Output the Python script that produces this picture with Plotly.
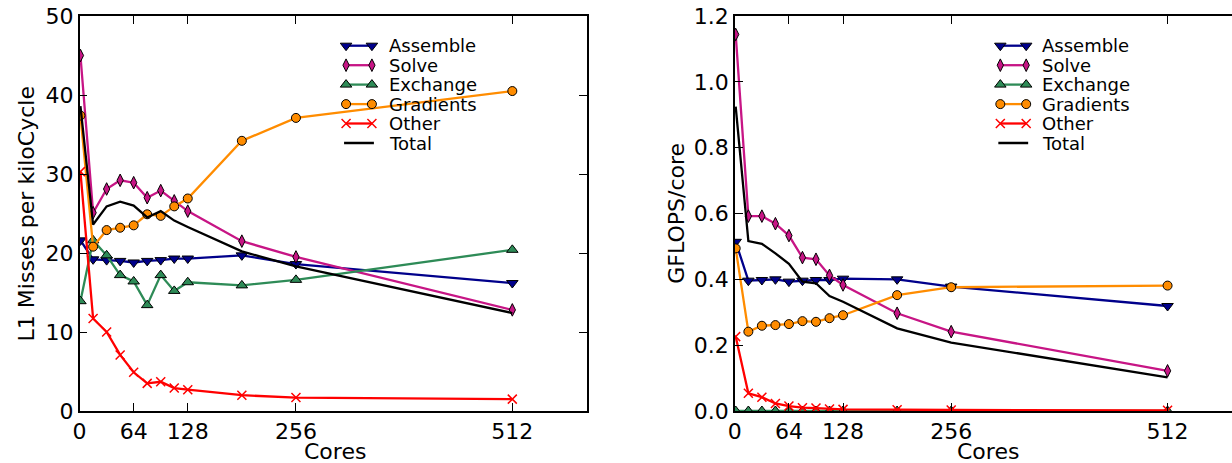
import plotly.graph_objects as go

# ---------------- data ----------------
cores = [1, 16, 32, 48, 64, 80, 96, 112, 128, 192, 256, 512]
x_ticks = [0, 64, 128, 256, 512]
series_names = ["Assemble", "Solve", "Exchange", "Gradients", "Other", "Total"]

l1_assemble = [21.6, 19.2, 19.1, 19.0, 18.8, 19.0, 19.1, 19.3, 19.3, 19.7, 18.6, 16.2]
l1_solve = [45.0, 25.1, 28.1, 29.2, 28.9, 27.0, 27.9, 26.6, 25.3, 21.5, 19.5, 12.8]
l1_exchange = [13.9, 21.6, 19.7, 17.2, 16.4, 13.4, 17.2, 15.2, 16.3, 15.9, 16.6, 20.4]
l1_gradients = [37.4, 20.8, 22.9, 23.2, 23.5, 24.9, 24.7, 25.9, 26.9, 34.2, 37.1, 40.5]
l1_other = [30.3, 11.7, 10.0, 7.1, 4.9, 3.5, 3.7, 2.9, 2.7, 2.0, 1.7, 1.5]
l1_total = [38.6, 23.6, 25.9, 26.5, 26.0, 24.5, 25.3, 24.1, 23.3, 20.2, 18.3, 12.4]

gf_assemble = [0.514, 0.396, 0.398, 0.400, 0.393, 0.396, 0.398, 0.398, 0.402, 0.400, 0.378, 0.319]
gf_solve = [1.144, 0.592, 0.592, 0.569, 0.533, 0.466, 0.461, 0.412, 0.383, 0.297, 0.241, 0.122]
gf_exchange = [0.0, 0.0, 0.0, 0.0, 0.0, 0.0, 0.0, 0.0, 0.0, 0.0, 0.0, 0.0]
gf_gradients = [0.494, 0.241, 0.259, 0.261, 0.264, 0.273, 0.271, 0.282, 0.291, 0.352, 0.376, 0.381]
gf_other = [0.226, 0.054, 0.042, 0.023, 0.015, 0.010, 0.009, 0.006, 0.005, 0.004, 0.003, 0.002]
gf_total = [0.925, 0.516, 0.508, 0.479, 0.447, 0.393, 0.388, 0.349, 0.332, 0.251, 0.208, 0.102]

# ---------------- styles ----------------
colors = ["#00008B", "#C71585", "#2E8B57", "#FF8C00", "#FF0000", "#000000"]
symbols = ["triangle-down", "diamond-tall", "triangle-up", "circle", "x-thin", None]
msizes = [10, 9, 10, 9, 9, 0]

W, H = 1232, 463
TOP, BOT = 16, 411
FONT = "DejaVu Sans"

fig = go.Figure()


def add_series(xref, yref, values_list):
    for name, vals, c, s, ms in zip(series_names, values_list, colors, symbols, msizes):
        if s is None:
            fig.add_trace(go.Scatter(x=cores, y=vals, name=name, mode="lines",
                                     line=dict(color=c, width=2.3),
                                     xaxis=xref, yaxis=yref, showlegend=False))
        elif s == "x-thin":
            fig.add_trace(go.Scatter(x=cores, y=vals, name=name, mode="lines+markers",
                                     line=dict(color=c, width=2.3),
                                     marker=dict(symbol=s, size=ms, color=c,
                                                 line=dict(color=c, width=1.5)),
                                     xaxis=xref, yaxis=yref, showlegend=False))
        else:
            fig.add_trace(go.Scatter(x=cores, y=vals, name=name, mode="lines+markers",
                                     line=dict(color=c, width=2.3),
                                     marker=dict(symbol=s, size=ms, color=c,
                                                 line=dict(color="black", width=1)),
                                     xaxis=xref, yaxis=yref, showlegend=False))


add_series("x", "y", [l1_assemble, l1_solve, l1_exchange, l1_gradients, l1_other, l1_total])
add_series("x2", "y2", [gf_assemble, gf_solve, gf_exchange, gf_gradients, gf_other, gf_total])

# ---------------- manual legends (matplotlib style, two markers per row) ----------------
leg_rows = [45.7, 65.2, 84.6, 104.1, 123.5, 143.0]
legend_pos = [(341, 367, 382), (999, 1025, 1039)]
annotations = []
for (xa, xb, xt) in legend_pos:
    for name, c, s, ms, yy in zip(series_names, colors, symbols, msizes, leg_rows):
        if s is None:
            fig.add_trace(go.Scatter(x=[xa - 2, xb + 2], y=[yy, yy], mode="lines",
                                     line=dict(color=c, width=2.5),
                                     xaxis="x3", yaxis="y3", showlegend=False,
                                     hoverinfo="skip"))
        else:
            mline = dict(color=c, width=1.5) if s == "x-thin" else dict(color="black", width=1)
            fig.add_trace(go.Scatter(x=[xa, xb], y=[yy, yy], mode="lines+markers",
                                     line=dict(color=c, width=2.3),
                                     marker=dict(symbol=s, size=ms, color=c, line=mline),
                                     xaxis="x3", yaxis="y3", showlegend=False,
                                     hoverinfo="skip"))
        annotations.append(dict(x=xt / W, y=(BOT - yy) / (BOT - TOP), xref="paper", yref="paper",
                                text=name, showarrow=False, xanchor="left", yanchor="middle",
                                font=dict(family=FONT, size=18, color="black")))


def py(p):
    return (BOT - p) / (BOT - TOP)


annotations += [
    dict(x=20 / W, y=py(213.5), xref="paper", yref="paper", text="L1 Misses per kiloCycle",
         textangle=-90, showarrow=False, xanchor="center", yanchor="middle",
         font=dict(family=FONT, size=22, color="black")),
    dict(x=673 / W, y=py(213.5), xref="paper", yref="paper", text="GFLOPS/core",
         textangle=-90, showarrow=False, xanchor="center", yanchor="middle",
         font=dict(family=FONT, size=22, color="black")),
    dict(x=329.5 / W, y=py(451), xref="paper", yref="paper", text="Cores",
         showarrow=False, xanchor="center", yanchor="middle",
         font=dict(family=FONT, size=22, color="black")),
    dict(x=987 / W, y=py(451), xref="paper", yref="paper", text="Cores",
         showarrow=False, xanchor="center", yanchor="middle",
         font=dict(family=FONT, size=22, color="black")),
]

axis_common = dict(showgrid=False, zeroline=False, showline=True, linecolor="black",
                   linewidth=1.5, ticks="inside", ticklen=8, tickwidth=1, tickcolor="black",
                   tickfont=dict(family=FONT, size=22, color="black"))

x1_lo, x1_hi = 73, 583
px_per_core = (x1_hi - x1_lo) / 600.0
x2_lo = 732

fig.update_layout(
    width=W, height=H,
    margin=dict(l=0, r=0, t=TOP, b=H - BOT, pad=0),
    paper_bgcolor="white", plot_bgcolor="rgba(0,0,0,0)",
    font=dict(family=FONT, size=22, color="black"),
    showlegend=False,
    xaxis=dict(domain=[x1_lo / W, x1_hi / W], range=[0, 600], tickvals=x_ticks,
               mirror="ticks", anchor="y", **axis_common),
    yaxis=dict(domain=[0, 1], range=[0, 50], dtick=10, tick0=0, mirror="ticks",
               anchor="x", **axis_common),
    xaxis2=dict(domain=[x2_lo / W, 1.0], range=[0, (W - x2_lo) / px_per_core],
                tickvals=x_ticks, mirror="ticks", anchor="y2", **axis_common),
    yaxis2=dict(domain=[0, 1], range=[0, 1.2], dtick=0.2, tick0=0, tickformat=".1f",
                mirror=False, anchor="x2", **axis_common),
    xaxis3=dict(domain=[0, 1], range=[0, W], visible=False, anchor="y3", fixedrange=True),
    yaxis3=dict(domain=[0, 1], range=[BOT, TOP], visible=False, anchor="x3", fixedrange=True),
    annotations=annotations,
)

fig.write_html("out.html",
               config={"displayModeBar": False},
               post_script="document.body.style.margin='0';document.body.style.overflow='hidden';")
